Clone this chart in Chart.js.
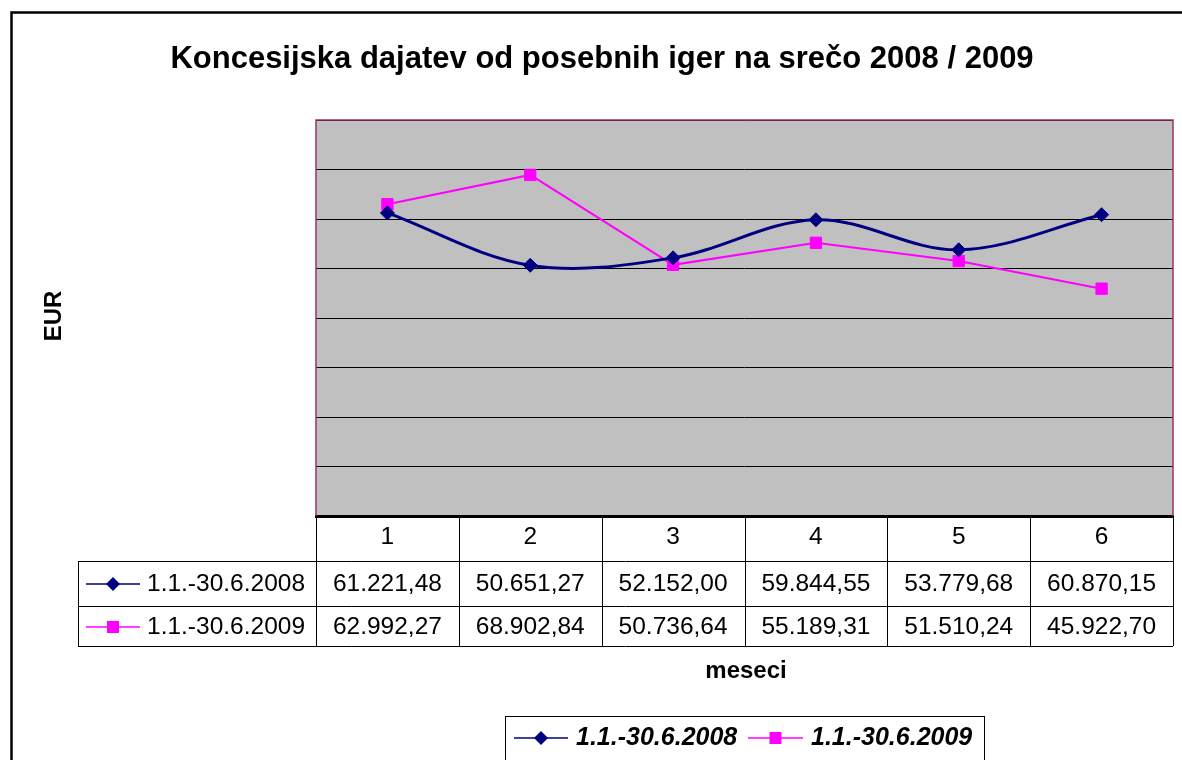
<!DOCTYPE html>
<html>
<head>
<meta charset="utf-8">
<script src="https://cdn.jsdelivr.net/npm/chart.js@4.4.1/dist/chart.umd.min.js"></script>
<style>
    body { margin: 0; background: #ffffff; }
    canvas { display: block; }
</style>
</head>
<body>
<canvas id="koncesijaChart" width="1182" height="760"></canvas>
<script>
const months = ['1', '2', '3', '4', '5', '6'];
const seriesNames = ['1.1.-30.6.2008', '1.1.-30.6.2009'];
const values2008 = [61221.48, 50651.27, 52152.00, 59844.55, 53779.68, 60870.15];
const values2009 = [62992.27, 68902.84, 50736.64, 55189.31, 51510.24, 45922.70];
const yMax = 80000;
const yStep = 10000;

const titleText = 'Koncesijska dajatev od posebnih iger na srečo 2008 / 2009';
const xTitle = 'meseci';
const yTitle = 'EUR';

const NAVY = '#000080';
const MAGENTA = '#ff00ff';
const FONT = '"Liberation Sans", Arial, sans-serif';

// Slovenian number format: 61.221,48
function formatEur(v) {
    const parts = v.toFixed(2).split('.');
    const intPart = parts[0].replace(/\B(?=(\d{3})+(?!\d))/g, '.');
    return intPart + ',' + parts[1];
}

function drawMarker(ctx, style, x, y, color) {
    ctx.fillStyle = color;
    ctx.beginPath();
    if (style === 'rectRot') {
        ctx.moveTo(x, y - 7);
        ctx.lineTo(x + 7, y);
        ctx.lineTo(x, y + 7);
        ctx.lineTo(x - 7, y);
        ctx.closePath();
    } else {
        ctx.rect(x - 6, y - 6, 12, 12);
    }
    ctx.fill();
}

function drawKey(ctx, x1, x2, y, color, style, width) {
    ctx.strokeStyle = color;
    ctx.lineWidth = width;
    ctx.beginPath();
    ctx.moveTo(x1, y);
    ctx.lineTo(x2, y);
    ctx.stroke();
    drawMarker(ctx, style, (x1 + x2) / 2, y, color);
}

const excelPlugin = {
    id: 'excelLook',
    beforeDraw(chart) {
        const { ctx, chartArea: a } = chart;
        ctx.save();
        ctx.fillStyle = '#c0c0c0';
        ctx.fillRect(a.left, a.top, a.right - a.left, a.bottom - a.top);
        ctx.restore();
    },
    afterDraw(chart) {
        const { ctx, chartArea: a } = chart;
        const x = chart.scales.x;
        ctx.save();

        // plot area border
        ctx.strokeStyle = '#993366';
        ctx.lineWidth = 1.5;
        ctx.beginPath();
        ctx.moveTo(a.left, a.bottom);
        ctx.lineTo(a.left, a.top);
        ctx.lineTo(a.right, a.top);
        ctx.lineTo(a.right, a.bottom);
        ctx.stroke();

        // outer chart border
        ctx.strokeStyle = '#000';
        ctx.lineWidth = 2.5;
        ctx.strokeRect(11.5, 12.5, 1200, 800);

        // title
        ctx.fillStyle = '#000';
        ctx.textAlign = 'center';
        ctx.textBaseline = 'alphabetic';
        ctx.font = 'bold 31px ' + FONT;
        ctx.fillText(titleText, 602, 68);

        // data table
        const rowTop = a.bottom;
        const rows = [rowTop, 561, 606, 646];
        const keyLeft = 78;
        ctx.strokeStyle = '#000';
        ctx.lineWidth = 1;
        ctx.beginPath();
        for (let i = 0; i <= months.length; i++) {
            const px = Math.round(x.getPixelForValue(i - 0.5)) + 0.5;
            ctx.moveTo(px, rowTop);
            ctx.lineTo(px, rows[3]);
        }
        ctx.moveTo(keyLeft + 0.5, rows[1]);
        ctx.lineTo(keyLeft + 0.5, rows[3]);
        [rows[1], rows[2], rows[3]].forEach(ry => {
            ctx.moveTo(keyLeft, ry + 0.5);
            ctx.lineTo(a.right, ry + 0.5);
        });
        ctx.stroke();

        ctx.font = '24.5px ' + FONT;
        ctx.textBaseline = 'middle';
        ctx.textAlign = 'center';
        months.forEach((m, i) => {
            const cx = x.getPixelForValue(i);
            ctx.fillText(m, cx, 537);
            ctx.fillText(formatEur(values2008[i]), cx, 584);
            ctx.fillText(formatEur(values2009[i]), cx, 627);
        });

        drawKey(ctx, 86, 140, 584, NAVY, 'rectRot', 1.5);
        drawKey(ctx, 86, 140, 627, MAGENTA, 'rect', 1.5);
        ctx.fillStyle = '#000';
        ctx.textAlign = 'left';
        ctx.fillText(seriesNames[0], 147, 584);
        ctx.fillText(seriesNames[1], 147, 627);

        // axis titles
        ctx.font = 'bold 24px ' + FONT;
        ctx.textAlign = 'center';
        ctx.textBaseline = 'alphabetic';
        ctx.fillText(xTitle, 746, 678);
        ctx.save();
        ctx.translate(61, 316);
        ctx.rotate(-Math.PI / 2);
        ctx.fillText(yTitle, 0, 0);
        ctx.restore();

        // legend
        ctx.strokeStyle = '#000';
        ctx.lineWidth = 1;
        ctx.strokeRect(505.5, 716.5, 479, 80);
        drawKey(ctx, 514, 568, 738, NAVY, 'rectRot', 1.5);
        drawKey(ctx, 748, 803, 738, MAGENTA, 'rect', 1.5);
        ctx.fillStyle = '#000';
        ctx.font = 'italic bold 25px ' + FONT;
        ctx.textAlign = 'left';
        ctx.textBaseline = 'middle';
        ctx.fillText(seriesNames[0], 576, 738);
        ctx.fillText(seriesNames[1], 811, 738);

        ctx.restore();
    }
};

const ctx = document.getElementById('koncesijaChart').getContext('2d');
new Chart(ctx, {
    type: 'line',
    data: {
        labels: months,
        datasets: [{
            label: seriesNames[0],
            data: values2008,
            borderColor: NAVY,
            backgroundColor: NAVY,
            borderWidth: 3,
            tension: 0.35,
            pointStyle: 'rectRot',
            pointRadius: 7,
            pointBorderWidth: 1,
            pointBackgroundColor: NAVY,
            pointBorderColor: NAVY
        }, {
            label: seriesNames[1],
            data: values2009,
            borderColor: MAGENTA,
            backgroundColor: MAGENTA,
            borderWidth: 2,
            tension: 0,
            pointStyle: 'rect',
            pointRadius: 8,
            pointBorderWidth: 1,
            pointBackgroundColor: MAGENTA,
            pointBorderColor: MAGENTA
        }]
    },
    options: {
        responsive: false,
        animation: false,
        layout: {
            padding: { left: 316, top: 120, right: 0, bottom: 244 }
        },
        plugins: {
            legend: { display: false },
            title: { display: false },
            tooltip: { enabled: false }
        },
        scales: {
            x: {
                offset: true,
                afterFit: s => { s.height = 0; },
                ticks: { display: false },
                grid: { display: false },
                border: { display: true, color: '#000', width: 3 }
            },
            y: {
                min: 0,
                max: yMax,
                afterFit: s => { s.width = 0; },
                ticks: { display: false, stepSize: yStep },
                grid: { color: '#000', lineWidth: 1, drawTicks: false },
                border: { display: false }
            }
        }
    },
    plugins: [excelPlugin]
});
</script>
</body>
</html>
